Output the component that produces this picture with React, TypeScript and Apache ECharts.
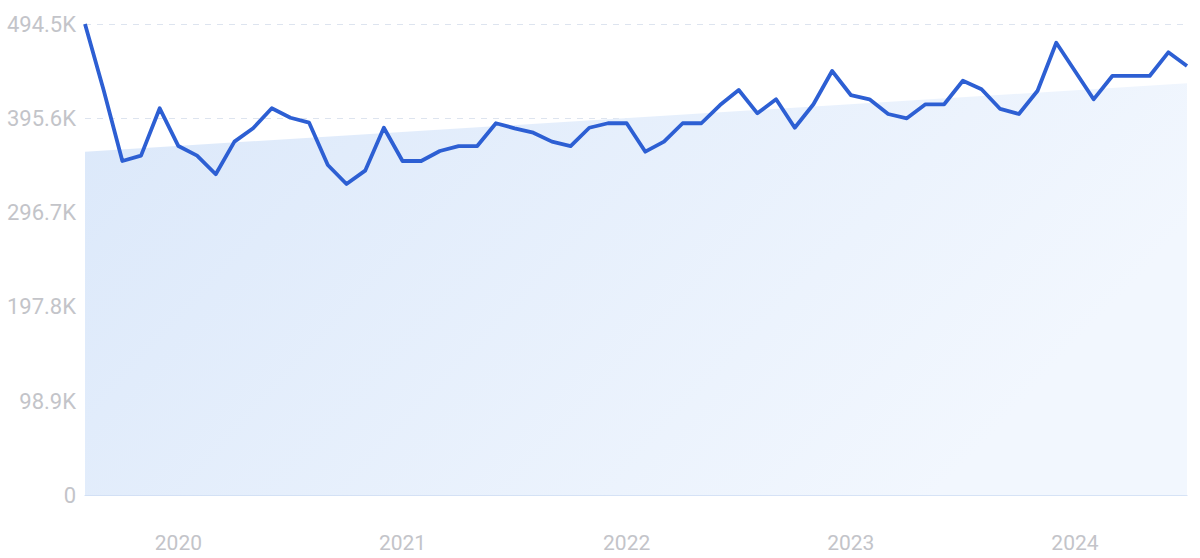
import React, { useEffect, useRef } from "react";
import * as echarts from "echarts";

const months: string[] = [
  "2019-08","2019-09","2019-10","2019-11","2019-12",
  "2020-01","2020-02","2020-03","2020-04","2020-05","2020-06","2020-07","2020-08","2020-09","2020-10","2020-11","2020-12",
  "2021-01","2021-02","2021-03","2021-04","2021-05","2021-06","2021-07","2021-08","2021-09","2021-10","2021-11","2021-12",
  "2022-01","2022-02","2022-03","2022-04","2022-05","2022-06","2022-07","2022-08","2022-09","2022-10","2022-11","2022-12",
  "2023-01","2023-02","2023-03","2023-04","2023-05","2023-06","2023-07","2023-08","2023-09","2023-10","2023-11","2023-12",
  "2024-01","2024-02","2024-03","2024-04","2024-05","2024-06","2024-07",
];

const values: number[] = [
  494500, 425000, 350800, 356400, 406100,
  366500, 356400, 336900, 371100, 385100, 406100, 396200, 391000, 346600, 326700, 340700, 385700,
  350800, 350800, 361300, 366500, 366500, 390400, 385100, 380500, 371100, 366500, 385700, 390400,
  390400, 360600, 371100, 390400, 390400, 409500, 425300, 400800, 415500, 385700, 410300, 445200,
  420000, 415500, 400100, 395600, 410300, 410300, 435000, 426000, 405400, 400100, 424500, 474900,
  445200, 415500, 440000, 440000, 440000, 464800, 450400,
];

const trendStart = 360600;
const trendEnd = 432300;

const yMax = 494500;
const yInterval = 98900;

function fmtY(v: number): string {
  if (v === 0) return "0";
  return (v / 1000).toFixed(1) + "K";
}

export default function App() {
  const ref = useRef<HTMLDivElement>(null);
  useEffect(() => {
    if (!ref.current) return;
    const chart = echarts.init(ref.current, undefined, { renderer: "svg" });
    const labelColor = "#c3c4c9";
    chart.setOption({
      animation: false,
      grid: { left: 85, right: 13, top: 24, bottom: 62.5, containLabel: false },
      xAxis: {
        type: "category",
        data: months,
        boundaryGap: false,
        axisLine: { show: true, lineStyle: { color: "#cddcf3", width: 1 } },
        axisTick: { show: false },
        splitLine: { show: false },
        axisLabel: {
          interval: (idx: number, val: string) => val.endsWith("-01"),
          formatter: (val: string) => val.slice(0, 4),
          color: labelColor,
          fontSize: 21,
          fontFamily: "Roboto",
          margin: 37,
        },
      },
      yAxis: {
        type: "value",
        min: 0,
        max: yMax,
        interval: yInterval,
        axisLine: { show: false },
        axisTick: { show: false },
        splitLine: { show: true, lineStyle: { color: "#dde4ef", type: [6, 6], width: 1 } },
        axisLabel: {
          formatter: fmtY,
          color: labelColor,
          fontSize: 22,
          fontFamily: "Roboto",
          margin: 9,
        },
      },
      series: [
        {
          type: "line",
          data: [[0, trendStart], [months.length - 1, trendEnd]],
          symbol: "none",
          lineStyle: { width: 0 },
          silent: true,
          z: 1,
          areaStyle: {
            opacity: 1,
            color: new echarts.graphic.LinearGradient(0, 0, 1, 0.35, [
              { offset: 0, color: "#dbe8fa" },
              { offset: 1, color: "#f2f7fe" },
            ]),
          },
        },
        {
          type: "line",
          data: values,
          symbol: "none",
          z: 3,
          lineStyle: { color: "#2d5fd3", width: 3.8, join: "round" },
        },
      ],
    });
    return () => chart.dispose();
  }, []);
  return (
    <div
      ref={ref}
      style={{ position: "absolute", left: 0, top: 0, width: 1200, height: 558 }}
    />
  );
}
